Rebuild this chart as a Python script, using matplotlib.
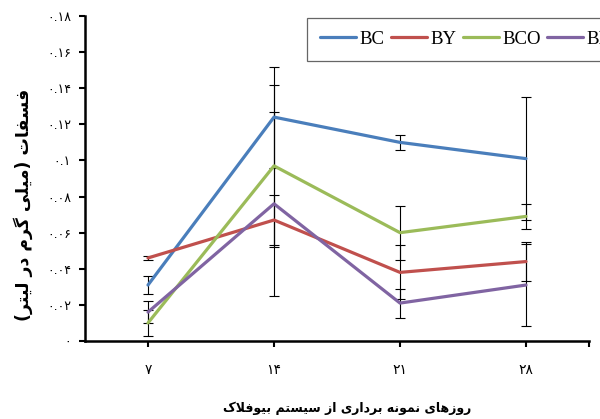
import numpy as np
import matplotlib
matplotlib.use('Agg')
import matplotlib.pyplot as plt
from matplotlib.ticker import FuncFormatter, FixedLocator

days = ['7', '14', '21', '28']
bc = [0.031, 0.124, 0.110, 0.101]
by = [0.046, 0.067, 0.038, 0.044]
bco = [0.010, 0.097, 0.060, 0.069]
bf = [0.016, 0.076, 0.021, 0.031]
bc_err = [0.005, 0.028, 0.004, 0.034]
by_err = [0.001, 0.014, 0.015, 0.011]
bco_err = [0.007, 0.045, 0.015, 0.007]
bf_err = [0.006, 0.051, 0.008, 0.0225]

x_label = 'روزهای نمونه برداری از سیستم بیوفلاک'
y_label = 'فسفات (میلی گرم در لیتر)'

# presentation forms: isolated, final, initial, medial
FORMS = {
    'ا': ('\uFE8D', '\uFE8E', None, None),
    'ب': ('\uFE8F', '\uFE90', '\uFE91', '\uFE92'),
    'ت': ('\uFE95', '\uFE96', '\uFE97', '\uFE98'),
    'د': ('\uFEA9', '\uFEAA', None, None),
    'ر': ('\uFEAD', '\uFEAE', None, None),
    'ز': ('\uFEAF', '\uFEB0', None, None),
    'س': ('\uFEB1', '\uFEB2', '\uFEB3', '\uFEB4'),
    'ف': ('\uFED1', '\uFED2', '\uFED3', '\uFED4'),
    'ل': ('\uFEDD', '\uFEDE', '\uFEDF', '\uFEE0'),
    'م': ('\uFEE1', '\uFEE2', '\uFEE3', '\uFEE4'),
    'ن': ('\uFEE5', '\uFEE6', '\uFEE7', '\uFEE8'),
    'ه': ('\uFEE9', '\uFEEA', '\uFEEB', '\uFEEC'),
    'و': ('\uFEED', '\uFEEE', None, None),
    'ی': ('\uFBFC', '\uFBFD', '\uFBFE', '\uFBFF'),
    'ک': ('\uFB8E', '\uFB8F', '\uFB90', '\uFB91'),
    'گ': ('\uFB92', '\uFB93', '\uFB94', '\uFB95'),
}

def shape(text):
    # simple joining + visual (reversed) order, matplotlib has no bidi
    out = []
    i = 0
    n = len(text)
    while i < n:
        ch = text[i]
        if ch not in FORMS:
            out.append(ch)
            i += 1
            continue
        prev = text[i-1] if i > 0 else ''
        nxt = text[i+1] if i < n - 1 else ''
        jp = prev in FORMS and FORMS[prev][2] is not None
        if ch == 'ل' and nxt == 'ا':
            out.append('\uFEFC' if jp else '\uFEFB')
            i += 2
            continue
        jn = nxt in FORMS and FORMS[ch][2] is not None
        iso, fin, ini, med = FORMS[ch]
        if jp and jn:
            out.append(med)
        elif jp:
            out.append(fin)
        elif jn:
            out.append(ini)
        else:
            out.append(iso)
        i += 1
    s = ''.join(reversed(out))
    return s.translate(str.maketrans('()', ')('))

FA = str.maketrans('0123456789', '۰۱۲۳۴۵۶۷۸۹')

def fa_num(v, pos=None):
    return ('%g' % round(v, 3)).translate(FA)

plt.rcParams['font.family'] = ['DejaVu Sans']

fig = plt.figure(figsize=(6, 4.19), dpi=100)
ax = fig.add_axes([85/600, 1-341/419, 504/600, 325/419])

series = [('BC', bc, bc_err, '#4A7EBB'), ('BY', by, by_err, '#C0504D'),
          ('BCO', bco, bco_err, '#9BBB59'), ('BF', bf, bf_err, '#8064A2')]
for name, vals, err, col in series:
    ax.errorbar(days, vals, yerr=err, fmt='none', ecolor='black', elinewidth=0.8,
                capsize=3.6, capthick=0.8, zorder=1)
for name, vals, err, col in series:
    ax.plot(days, vals, color=col, lw=2.3, label=name, zorder=2, solid_capstyle='round')

ax.set_xlim(-0.5, 3.5)
ax.set_ylim(0, 0.18)
ax.set_yticks(np.arange(0, 0.181, 0.02))
ax.yaxis.set_major_formatter(FuncFormatter(fa_num))
ax.set_xticks(range(4))
ax.set_xticklabels([d.translate(FA) for d in days])
ax.xaxis.set_minor_locator(FixedLocator([3.5]))

for s in ['top', 'right']:
    ax.spines[s].set_visible(False)
for s in ['left', 'bottom']:
    ax.spines[s].set_linewidth(1.8)
ax.tick_params(axis='both', which='both', direction='out', width=1.5, length=4)
ax.tick_params(axis='y', labelsize=9, pad=6)
ax.tick_params(axis='x', labelsize=10, pad=12)

ax.set_xlabel(shape(x_label), fontsize=9, fontweight='bold')
ax.xaxis.set_label_coords(0.52, -0.185)
ax.set_ylabel(shape(y_label), fontsize=12.5, fontweight='bold')
ax.yaxis.set_label_coords(-0.103, 0.42)

leg = fig.legend(loc='lower left', bbox_to_anchor=(307/600, 1-61/419), ncol=4,
                 prop={'family': 'Liberation Serif', 'size': 13.5}, frameon=True,
                 fancybox=False, handlelength=1.9, handletextpad=0.2,
                 columnspacing=0.35, borderpad=0.7, borderaxespad=0)
leg.get_frame().set_edgecolor('#404040')
leg.get_frame().set_linewidth(0.9)

fig.savefig('out.png', dpi=100)
